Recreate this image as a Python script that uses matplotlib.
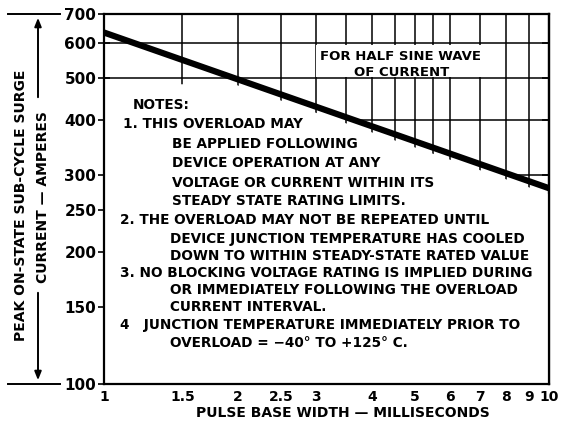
import numpy as np
import matplotlib
matplotlib.use("Agg")
import matplotlib.pyplot as plt
from matplotlib.lines import Line2D
from matplotlib.patches import Rectangle

# ---- data ----
pulse_ms = [1, 10]
surge_amps = [635, 280]
x_ticks = [1, 1.5, 2, 2.5, 3, 4, 5, 6, 7, 8, 9, 10]
x_ticklabels = ["1", "1.5", "2", "2.5", "3", "4", "5", "6", "7", "8", "9", "10"]
x_minor = [3.5, 4.5, 5.5]
y_ticks = [100, 150, 200, 250, 300, 400, 500, 600, 700]
y_ticklabels = ["100", "150", "200", "250", "300", "400", "500", "600", "700"]
h_grid_full = [500, 600]
h_grid_upper = [300, 400]
notes_lines = [
    ("NOTES:", 133, 105),
    ("1. THIS OVERLOAD MAY", 123, 124),
    ("BE APPLIED FOLLOWING", 172, 144),
    ("DEVICE OPERATION AT ANY", 172, 163),
    ("VOLTAGE OR CURRENT WITHIN ITS", 172, 183),
    ("STEADY STATE RATING LIMITS.", 172, 201),
    ("2. THE OVERLOAD MAY NOT BE REPEATED UNTIL", 120, 220),
    ("DEVICE JUNCTION TEMPERATURE HAS COOLED", 170, 239),
    ("DOWN TO WITHIN STEADY-STATE RATED VALUE", 170, 256),
    ("3. NO BLOCKING VOLTAGE RATING IS IMPLIED DURING", 120, 273),
    ("OR IMMEDIATELY FOLLOWING THE OVERLOAD", 170, 290),
    ("CURRENT INTERVAL.", 170, 307),
    ("4   JUNCTION TEMPERATURE IMMEDIATELY PRIOR TO", 120, 325),
    ("OVERLOAD = \u221240\u00b0 TO +125\u00b0 C.", 170, 343),
]

W, H = 572, 428
plt.rcParams['font.family'] = ['DejaVu Sans']
FONT = dict(fontweight='bold', color='black')

fig = plt.figure(figsize=(W / 100, H / 100), dpi=100)
fig.patch.set_facecolor('white')
L, R, T, B = 104, 549, 14, 384
ax = fig.add_axes([L / W, 1 - B / H, (R - L) / W, (B - T) / H])
ax.set_xscale('log')
ax.set_yscale('log')
ax.set_xlim(1, 10)
ax.set_ylim(100, 700)


def fx(px):
    return px / W


def fy(py):
    return 1 - py / H


# grid (only visible above the curve / 500 line)
grid_x = sorted(x_ticks[1:-1] + x_minor)
ax.vlines(grid_x, 100, 700, color='black', lw=1.1, zorder=1)
ax.hlines(h_grid_full, 1, 10, color='black', lw=1.1, zorder=1)

# white mask below the curve
xs = np.geomspace(1, 10, 300)
ys = 10 ** np.interp(np.log10(xs), np.log10(pulse_ms), np.log10(surge_amps))
ax.fill_between(xs, 100, np.minimum(ys, 500) * 0.97, color='white', lw=0, zorder=2)

# upper horizontal grid lines start where the curve crosses them
for h in h_grid_upper:
    xc = 10 ** np.interp(np.log10(h), np.log10(surge_amps[::-1]), np.log10(pulse_ms[::-1]))
    ax.hlines(h, max(xc, 1), 10, color='black', lw=1.1, zorder=2.2)

# white box behind the wave annotation
ax.add_patch(Rectangle((fx(316), fy(77)), fx(489) - fx(316), fy(45) - fy(77),
                       transform=fig.transFigure, facecolor='white', edgecolor='none',
                       zorder=2.5))

ax.plot(pulse_ms, surge_amps, color='black', lw=4.5, solid_capstyle='butt', zorder=4)

for s in ax.spines.values():
    s.set_linewidth(1.6)
    s.set_zorder(5)

ax.xaxis.set_major_locator(matplotlib.ticker.FixedLocator(x_ticks))
ax.xaxis.set_major_formatter(matplotlib.ticker.FixedFormatter(x_ticklabels))
ax.xaxis.set_minor_locator(matplotlib.ticker.FixedLocator(x_minor))
ax.xaxis.set_minor_formatter(matplotlib.ticker.NullFormatter())
ax.yaxis.set_major_locator(matplotlib.ticker.FixedLocator(y_ticks))
ax.yaxis.set_major_formatter(matplotlib.ticker.FixedFormatter(y_ticklabels))
ax.yaxis.set_minor_locator(matplotlib.ticker.NullLocator())
ax.tick_params(axis='x', which='both', direction='in', length=5, width=1.2, pad=4,
               labelsize=10, top=False)
ax.tick_params(axis='y', which='both', direction='inout', length=9, width=1.2, pad=1,
               labelsize=11, right=False)
for lab in ax.get_xticklabels() + ax.get_yticklabels():
    lab.set_fontweight('bold')

sec = ax.secondary_yaxis('right')
sec.set_yticks(y_ticks)
sec.yaxis.set_minor_locator(matplotlib.ticker.NullLocator())
sec.tick_params(axis='y', direction='in', length=5, width=1.2, labelright=False)
sec.spines['right'].set_linewidth(1.6)

fig.text(fx(343), fy(413), "PULSE BASE WIDTH \u2014 MILLISECONDS", ha='center', va='center',
         fontsize=10, **FONT)

# boxed top-right annotation
fig.text(fx(400), fy(57), "FOR HALF SINE WAVE", ha='center', va='center', fontsize=9.5, **FONT)
fig.text(fx(402), fy(72), "OF CURRENT", ha='center', va='center', fontsize=9.5, **FONT)

for txt, px, py in notes_lines:
    fig.text(fx(px), fy(py), txt, ha='left', va='center', fontsize=9.8, **FONT)

# y-axis label with arrows
fig.text(fx(21), fy(205), "PEAK ON-STATE SUB-CYCLE SURGE", rotation=90,
         ha='center', va='center', fontsize=10, **FONT)
fig.text(fx(43), fy(197), "CURRENT \u2014 AMPERES", rotation=90,
         ha='center', va='center', fontsize=10, **FONT)
fig.add_artist(Line2D([fx(8), fx(60)], [fy(T), fy(T)], color='black', lw=1.4))
fig.add_artist(Line2D([fx(8), fx(60)], [fy(B), fy(B)], color='black', lw=1.4))
arrow = dict(arrowstyle='-|>,head_length=0.5,head_width=0.2', color='black', lw=1.4)
fig.add_artist(plt.Annotation("", xy=(fx(38), fy(T + 1)), xytext=(fx(38), fy(100)),
                              xycoords='figure fraction', textcoords='figure fraction',
                              arrowprops=arrow))
fig.add_artist(plt.Annotation("", xy=(fx(38), fy(B - 1)), xytext=(fx(38), fy(290)),
                              xycoords='figure fraction', textcoords='figure fraction',
                              arrowprops=arrow))

fig.savefig("out.png", dpi=100, facecolor='white')
